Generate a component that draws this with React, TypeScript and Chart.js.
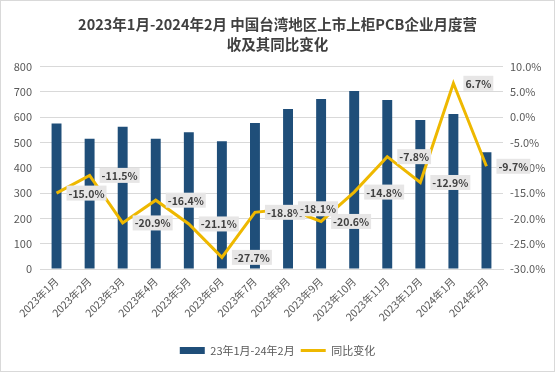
import React, { useEffect, useRef } from "react";
import { Chart, registerables } from "chart.js";

Chart.register(...registerables);

const categories = [
  "2023年1月", "2023年2月", "2023年3月", "2023年4月", "2023年5月", "2023年6月", "2023年7月",
  "2023年8月", "2023年9月", "2023年10月", "2023年11月", "2023年12月", "2024年1月", "2024年2月",
];
const revenue = [575, 515, 562, 515, 541, 505, 577, 632, 672, 704, 668, 589, 613, 461];
const yoyChange = [-15.0, -11.5, -20.9, -16.4, -21.1, -27.7, -18.8, -18.1, -20.6, -14.8, -7.8, -12.9, 6.7, -9.7];
const titleLines = ["2023年1月-2024年2月 中国台湾地区上市上柜PCB企业月度营", "收及其同比变化"];
const barLabel = "23年1月-24年2月";
const lineLabel = "同比变化";

const FONT = "'Noto Sans CJK SC', 'Noto Sans', sans-serif";
const BAR_COLOR = "#1F4E79";
const LINE_COLOR = "#EEB800";
const GRID = "#D9D9D9";
const TICK = "#595959";

const bgPlugin = {
  id: "bgBorder",
  beforeDraw(chart: any) {
    const { ctx, width, height } = chart;
    ctx.save();
    ctx.fillStyle = "#fff";
    ctx.fillRect(0, 0, width, height);
    ctx.restore();
  },
  afterDraw(chart: any) {
    const { ctx, width, height } = chart;
    ctx.save();
    ctx.strokeStyle = "#D9D9D9";
    ctx.lineWidth = 1;
    ctx.strokeRect(0.5, 0.5, width - 1, height - 1);
    ctx.restore();
  },
};

const labelPlugin = {
  id: "lineLabels",
  afterDatasetsDraw(chart: any) {
    const meta = chart.getDatasetMeta(1);
    const ctx = chart.ctx;
    ctx.save();
    ctx.font = `bold 10.5px ${FONT}`;
    ctx.textBaseline = "middle";
    ctx.textAlign = "center";
    meta.data.forEach((pt: any, i: number) => {
      const text = yoyChange[i].toFixed(1) + "%";
      const tw = ctx.measureText(text).width;
      const w = tw + 4;
      const h = 15;
      const left = pt.x + 10;
      ctx.fillStyle = "#E7E6E6";
      ctx.fillRect(left, pt.y - h / 2, w, h);
      ctx.fillStyle = "#404040";
      ctx.fillText(text, left + w / 2, pt.y + 0.5);
    });
    ctx.restore();
  },
};

export default function App() {
  const ref = useRef<HTMLCanvasElement | null>(null);
  useEffect(() => {
    document.body.style.margin = "0";
    if (!ref.current) return;
    const chart = new Chart(ref.current, {
      type: "bar",
      data: {
        labels: categories,
        datasets: [
          {
            type: "bar",
            label: barLabel,
            data: revenue,
            backgroundColor: BAR_COLOR,
            borderWidth: 0,
            yAxisID: "y",
            barPercentage: 0.6,
            categoryPercentage: 0.5,
            pointStyle: "rect",
            order: 2,
          } as any,
          {
            type: "line",
            label: lineLabel,
            data: yoyChange,
            borderColor: LINE_COLOR,
            backgroundColor: LINE_COLOR,
            borderWidth: 3,
            pointRadius: 0,
            pointStyle: "line",
            tension: 0,
            yAxisID: "y1",
            order: 1,
          } as any,
        ],
      },
      options: {
        responsive: false,
        animation: false,
        layout: { padding: { left: 0, right: 0, top: 0, bottom: 6 } },
        plugins: {
          title: {
            display: true,
            text: titleLines,
            color: "#404040",
            font: { family: FONT, size: 14.5, weight: "bold", lineHeight: 1.4 },
            padding: { top: 14, bottom: 12 },
          },
          legend: {
            position: "bottom",
            labels: {
              usePointStyle: true,
              pointStyleWidth: 25,
              boxHeight: 7,
              color: TICK,
              font: { family: FONT, size: 11 },
              padding: 6,
              sort: (a: any, b: any) => a.datasetIndex - b.datasetIndex,
            },
          },
          tooltip: { enabled: false },
        },
        scales: {
          x: {
            grid: { display: false, drawTicks: false },
            border: { display: true, color: GRID },
            ticks: {
              color: TICK,
              font: { family: FONT, size: 10.5 },
              minRotation: 45,
              maxRotation: 45,
              padding: 6,
              autoSkip: false,
            },
            afterFit(axis: any) {
              axis.height = 70;
            },
          },
          y: {
            position: "left",
            min: 0,
            max: 800,
            ticks: { stepSize: 100, color: TICK, font: { family: FONT, size: 11 }, padding: 8 },
            grid: { color: GRID, drawTicks: false },
            border: { display: false },
            afterFit(axis: any) {
              axis.width = 40;
            },
          },
          y1: {
            position: "right",
            min: -30,
            max: 10,
            z: 1,
            ticks: {
              stepSize: 5,
              color: TICK,
              font: { family: FONT, size: 11 },
              padding: 7,
              callback: (v: any) => Number(v).toFixed(1) + "%",
            },
            grid: { display: false, drawTicks: false },
            border: { display: false },
            afterFit(axis: any) {
              axis.width = 52;
            },
          },
        },
      } as any,
      plugins: [bgPlugin, labelPlugin],
    });
    return () => chart.destroy();
  }, []);
  return (
    <div style={{ width: 555, height: 372 }}>
      <canvas ref={ref} width={555} height={372} />
    </div>
  );
}
